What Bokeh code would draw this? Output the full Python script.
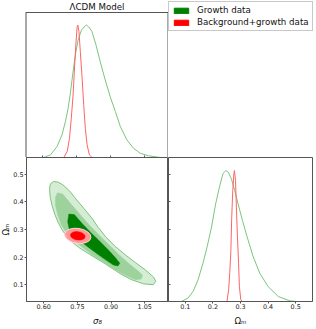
import math
from bokeh.plotting import figure
from bokeh.layouts import column, row
from bokeh.models import (FixedTicker, LinearAxis, Range1d, Legend, LegendItem, Label)
from bokeh.embed import file_html
from bokeh.resources import INLINE

# ---------------- data ----------------
title_text = "ΛCDM Model"
series_names = ["Growth data", "Background+growth data"]

sigma8_ticks = [0.60, 0.75, 0.90, 1.05]
sigma8_tick_labels = ["0.60", "0.75", "0.90", "1.05"]
om_ticks = [0.1, 0.2, 0.3, 0.4, 0.5]
om_tick_labels = ["0.1", "0.2", "0.3", "0.4", "0.5"]
sigma8_label = "σ₈"
om_label = "Ωₘ"

sigma8_range = (0.5235, 1.156)
om_range = (0.039, 0.561)
density_range_top = (0.0, 1.095)
density_range_right = (0.0, 1.10)

# 1D marginal of sigma8
s8_growth_x = [0.604, 0.634, 0.663, 0.685, 0.700, 0.712, 0.722, 0.732, 0.744, 0.756,
               0.771, 0.788, 0.793, 0.803, 0.817, 0.835, 0.854, 0.876, 0.898, 0.921,
               0.943, 0.972, 1.001, 1.031, 1.068, 1.119]
s8_growth_p = [0.0, 0.020, 0.083, 0.171, 0.271, 0.372, 0.485, 0.623, 0.774, 0.887,
               0.962, 0.995, 1.0, 0.987, 0.953, 0.852, 0.723, 0.586, 0.460, 0.347,
               0.234, 0.133, 0.070, 0.032, 0.013, 0.0]
s8_bg_x = [0.693, 0.708, 0.718, 0.726, 0.734, 0.741, 0.747, 0.752, 0.755, 0.760,
           0.766, 0.774, 0.781, 0.788, 0.796, 0.806, 0.818]
s8_bg_p = [0.0, 0.045, 0.145, 0.296, 0.472, 0.698, 0.874, 0.987, 1.0, 0.950,
           0.799, 0.598, 0.398, 0.221, 0.096, 0.020, 0.0]

# 1D marginal of Omega_m
om_growth_x = [0.0855, 0.1095, 0.128, 0.146, 0.164, 0.179, 0.195, 0.210, 0.225, 0.237,
               0.247, 0.256, 0.267, 0.279, 0.291, 0.307, 0.324, 0.346, 0.370, 0.400,
               0.437, 0.479, 0.504]
om_growth_p = [0.0, 0.026, 0.076, 0.165, 0.292, 0.418, 0.569, 0.747, 0.886, 0.979,
               1.0, 0.987, 0.937, 0.848, 0.747, 0.620, 0.494, 0.342, 0.216, 0.114,
               0.038, 0.005, 0.0]
om_bg_x = [0.251, 0.257, 0.261, 0.265, 0.268, 0.272, 0.276, 0.278, 0.282, 0.285,
           0.289, 0.293, 0.296, 0.301, 0.307]
om_bg_p = [0.0, 0.089, 0.216, 0.380, 0.633, 0.848, 0.975, 1.0, 0.924, 0.721,
           0.494, 0.292, 0.114, 0.013, 0.0]

# 2D contours (growth data): 99.7%, 95%, 68%
c3_s8 = [0.6440, 0.6634, 0.6855, 0.7146, 0.7441, 0.7808, 0.8147, 0.8434, 0.8765, 0.9206,
         0.9647, 1.0088, 1.0529, 1.0896, 1.0993, 1.0882, 1.0455, 0.9943, 0.9502, 0.9060,
         0.8690, 0.8324, 0.7971, 0.7618, 0.7309, 0.7044, 0.6824, 0.6647, 0.6493, 0.6382,
         0.6294, 0.6263, 0.6277, 0.6338]
c3_om = [0.4738, 0.4720, 0.4620, 0.4405, 0.4104, 0.3746, 0.3412, 0.3072, 0.2731, 0.2373,
         0.2075, 0.1800, 0.1538, 0.1273, 0.1118, 0.1000, 0.1029, 0.1172, 0.1351, 0.1584,
         0.1782, 0.1961, 0.2140, 0.2319, 0.2516, 0.2731, 0.2985, 0.3251, 0.3556, 0.3842,
         0.4165, 0.4416, 0.4595, 0.4685]
c2_s8 = [0.6620, 0.6855, 0.7200, 0.7580, 0.7990, 0.8430, 0.8910, 0.9380, 0.9780, 1.0140,
         1.0400, 1.0350, 1.0090, 0.9620, 0.9160, 0.8660, 0.8220, 0.7780, 0.7410, 0.7060,
         0.6790, 0.6630, 0.6530, 0.6520]
c2_om = [0.4330, 0.4280, 0.3940, 0.3580, 0.3200, 0.2830, 0.2450, 0.2070, 0.1780, 0.1540,
         0.1350, 0.1210, 0.1180, 0.1350, 0.1550, 0.1820, 0.2050, 0.2320, 0.2560, 0.2830,
         0.3150, 0.3520, 0.3860, 0.4160]
c1_s8 = [0.7120, 0.7366, 0.7690, 0.8060, 0.8440, 0.8880, 0.9180, 0.9390, 0.9310, 0.9110,
         0.8760, 0.8380, 0.8000, 0.7630, 0.7330, 0.7140, 0.7070]
c1_om = [0.3560, 0.3540, 0.3240, 0.2920, 0.2620, 0.2260, 0.1990, 0.1780, 0.1680, 0.1710,
         0.1900, 0.2120, 0.2350, 0.2580, 0.2800, 0.3000, 0.3280]

# 2D contours (background+growth): centre, widths (95%, 68%)
bg_center = (0.752, 0.277)
bg_width = [0.118, 0.066]
bg_height = [0.054, 0.030]
bg_angle = -0.15

# ---------------- style ----------------
FONT = "DejaVu Sans"
SPINE = "#555555"
g_dark, g_mid, g_light, g_edge = "#008000", "#9dd29d", "#d5ecd5", "#7cc47c"
r_dark, r_light, r_edge = "#ff0000", "#ff9898", "#ffd8d8"
g_line, r_line = "#7cc47c", "#ff6464"
TICK_FS = "6.4px"
LABEL_FS = "8.7px"

TOP_FRAME_H = 156      # frame of the top row (pixels); panel box uses its lower 145 px
TOP_BOX_H = 145
LAB_W = 10             # narrow column that carries the rotated y-axis title


def base_fig(**kw):
    p = figure(output_backend="svg", toolbar_location=None, min_border=0, title=None, **kw)
    p.outline_line_color = SPINE
    p.outline_line_width = 1
    p.background_fill_color = "white"
    p.border_fill_color = "white"
    for g in p.grid:
        g.visible = False
    return p


def style_axis(ax, ticks, labels, axis_label, italic):
    ax.ticker = FixedTicker(ticks=ticks)
    ax.major_label_overrides = {t: l for t, l in zip(ticks, labels)}
    ax.major_label_text_font = FONT
    ax.major_label_text_font_size = TICK_FS
    ax.major_label_text_color = "#222222"
    ax.major_tick_out = 2
    ax.major_tick_in = 0
    ax.minor_tick_line_color = None
    ax.major_tick_line_color = SPINE
    ax.axis_line_color = SPINE
    ax.axis_label = axis_label
    ax.axis_label_text_font = FONT
    ax.axis_label_text_font_size = LABEL_FS
    ax.axis_label_text_font_style = "italic" if italic else "normal"
    ax.axis_label_text_color = "#111111"


# spacer column (top) and y-title column (bottom)
p_lab_top = base_fig(width=LAB_W, height=157, x_range=Range1d(0, 1), y_range=Range1d(0, 1),
                     x_axis_location=None, y_axis_location=None, min_border_top=1)
p_lab_top.outline_line_color = None
p_lab = base_fig(width=LAB_W, height=171, x_range=Range1d(0, 1), y_range=Range1d(0, 1),
                 x_axis_location=None, y_axis_location=None, min_border_bottom=26)
p_lab.outline_line_color = None
p_lab.add_layout(Label(x=0.55, y=0.5, text=om_label, angle=math.pi / 2,
                       text_align="center", text_baseline="middle", text_font=FONT,
                       text_font_size=LABEL_FS, text_color="#111111"))

# top-left: sigma8 marginal (frame reaches the top so the legend can sit high)
top_ext = density_range_top[1] * TOP_FRAME_H / TOP_BOX_H
p1 = base_fig(width=168 - LAB_W, height=157, x_range=Range1d(*sigma8_range),
              y_range=Range1d(density_range_top[0], top_ext),
              x_axis_location=None, y_axis_location=None,
              min_border_left=25 - LAB_W, min_border_top=1)
p1.outline_line_color = None
ax1 = LinearAxis(ticker=FixedTicker(ticks=sigma8_ticks), fixed_location=0,
                 major_tick_in=2, major_tick_out=0, minor_tick_line_color=None,
                 major_label_text_color=None, axis_line_color=SPINE,
                 major_tick_line_color=SPINE)
p1.add_layout(ax1, "below")
# panel box (left, right, top) of the diagonal plot
p1.line([sigma8_range[0]] * 2, list(density_range_top), line_color=SPINE, line_width=2)
p1.line([sigma8_range[1]] * 2, list(density_range_top), line_color=SPINE, line_width=2)
p1.line(list(sigma8_range), [density_range_top[1]] * 2, line_color=SPINE, line_width=1)
p1.line(s8_growth_x, s8_growth_p, line_color=g_line, line_width=1)
p1.line(s8_bg_x, s8_bg_p, line_color=r_line, line_width=1)
p1.add_layout(Label(x=(sigma8_range[0] + sigma8_range[1]) / 2, y=density_range_top[1],
                    y_offset=6, text=title_text, text_align="center",
                    text_baseline="middle", text_font=FONT, text_font_size=LABEL_FS,
                    text_color="#111111"))

# top-right: legend only (swatch renderers sit outside the visible range)
swatch_left = [5.0]
swatch_right = [6.0]
swatch_top = [6.0]
swatch_bottom = [5.0]
p_leg = base_fig(width=145, height=157, x_range=Range1d(0, 1), y_range=Range1d(0, 1),
                 x_axis_location=None, y_axis_location=None, min_border_top=1)
p_leg.outline_line_color = None
rg = p_leg.quad(left=swatch_left, right=swatch_right, top=swatch_top, bottom=swatch_bottom,
                fill_color=g_dark, line_color=g_dark)
rr = p_leg.quad(left=swatch_left, right=swatch_right, top=swatch_top, bottom=swatch_bottom,
                fill_color=r_dark, line_color=r_dark)
leg = Legend(items=[LegendItem(label=series_names[0], renderers=[rg]),
                    LegendItem(label=series_names[1], renderers=[rr])],
             location="top_left", margin=0, padding=3, spacing=2,
             glyph_width=18, glyph_height=7, label_height=10, label_standoff=7,
             label_text_font=FONT, label_text_font_size=LABEL_FS,
             label_text_color="#111111",
             border_line_color="#c8c8c8", border_line_width=1, border_line_alpha=1.0,
             background_fill_color="white", background_fill_alpha=0.8)
p_leg.add_layout(leg)

# bottom-left: 2D contours
p2 = base_fig(width=168 - LAB_W, height=171, x_range=Range1d(*sigma8_range),
              y_range=Range1d(*om_range), min_border_left=25 - LAB_W, min_border_bottom=26)
style_axis(p2.xaxis[0], sigma8_ticks, sigma8_tick_labels, sigma8_label, True)
style_axis(p2.yaxis[0], om_ticks, om_tick_labels, None, False)
p2.xaxis.major_label_standoff = 0
p2.xaxis.axis_label_standoff = 4
p2.yaxis.major_label_standoff = 1
p2.patch(c3_s8, c3_om, fill_color=g_light, line_color=g_edge, line_width=1)
p2.patch(c2_s8, c2_om, fill_color=g_mid, line_color=g_mid, line_width=0.5)
p2.patch(c1_s8, c1_om, fill_color=g_dark, line_color=g_dark, line_width=0.5)
p2.ellipse(x=[bg_center[0]], y=[bg_center[1]], width=[bg_width[0]], height=[bg_height[0]],
           angle=bg_angle, fill_color=r_light, line_color=r_edge, line_width=1)
p2.ellipse(x=[bg_center[0]], y=[bg_center[1]], width=[bg_width[1]], height=[bg_height[1]],
           angle=bg_angle, fill_color=r_dark, line_color=r_dark, line_width=0.5)

# bottom-right: Omega_m marginal
p3 = base_fig(width=145, height=171, x_range=Range1d(*om_range),
              y_range=Range1d(*density_range_right), y_axis_location=None,
              min_border_right=1, min_border_bottom=26)
p3.extra_y_ranges = {"om": Range1d(*om_range)}
style_axis(p3.xaxis[0], om_ticks, om_tick_labels, om_label, False)
p3.xaxis.major_label_standoff = 0
p3.xaxis.axis_label_standoff = 4
ax3 = LinearAxis(y_range_name="om", ticker=FixedTicker(ticks=om_ticks),
                 fixed_location=om_range[0], major_tick_in=2, major_tick_out=0,
                 minor_tick_line_color=None, major_label_text_color=None,
                 axis_line_color=SPINE, major_tick_line_color=SPINE)
p3.add_layout(ax3, "left")
p3.line(om_growth_x, om_growth_p, line_color=g_line, line_width=1)
p3.line(om_bg_x, om_bg_p, line_color=r_line, line_width=1)

layout = column(row(p_lab_top, p1, p_leg), row(p_lab, p2, p3))

open("out.html", "w").write(file_html(layout, INLINE))
